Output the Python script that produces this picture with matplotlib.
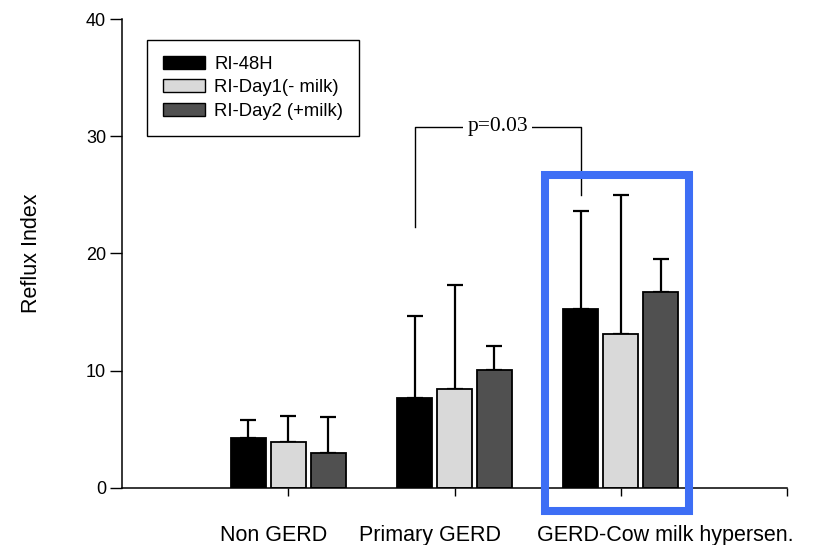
import matplotlib
matplotlib.use("Agg")
import matplotlib.pyplot as plt
from matplotlib.patches import Patch, Rectangle
import numpy as np

groups = ["Non GERD", "Primary GERD", "GERD-Cow milk hypersen."]
series = ["RI-48H", "RI-Day1(- milk)", "RI-Day2 (+milk)"]
ri_48h = [4.25, 7.7, 15.3]
ri_day1 = [3.9, 8.45, 13.1]
ri_day2 = [3.0, 10.1, 16.75]
err_48h = [1.55, 7.0, 8.3]
err_day1 = [2.25, 8.85, 11.9]
err_day2 = [3.07, 2.0, 2.75]
y_ticks = [0, 10, 20, 30, 40]
p_label = "p=0.03"

plt.rcParams['font.family'] = ['Liberation Sans', 'DejaVu Sans']

fig = plt.figure(figsize=(8.13, 5.45), dpi=100)
ax = fig.add_axes([122/813, 1-488/545, (787-122)/813, (488-19)/545])

colors = ["#000000", "#d9d9d9", "#505050"]
offsets = [-0.24, 0.0, 0.24]
width = 0.21
xg = np.arange(1, len(groups) + 1)
vals = [ri_48h, ri_day1, ri_day2]
errs = [err_48h, err_day1, err_day2]
for v, e, c, o in zip(vals, errs, colors, offsets):
    ax.bar(xg + o, v, width, color=c, edgecolor="black", linewidth=1.3, zorder=2)
    ax.errorbar(xg + o, v, yerr=[np.zeros(len(e)), e], fmt="none",
                ecolor="black", elinewidth=1.6, capsize=5.5, capthick=1.6, zorder=1)

ax.set_xlim(0, 4)
ax.set_ylim(0, 40)
ax.set_yticks(y_ticks)
ax.set_yticklabels([str(t) for t in y_ticks], fontsize=13)
ax.set_xticks([1, 2, 3, 4])
ax.set_xticklabels([])
ax.tick_params(axis="y", length=8.5, width=1, pad=3)
ax.tick_params(axis="x", length=6, width=1)
for s in ["top", "right"]:
    ax.spines[s].set_visible(False)
for s in ["left", "bottom"]:
    ax.spines[s].set_linewidth(1.1)

ax.set_ylabel("Reflux Index", fontsize=15.5)
ax.yaxis.set_label_coords(-0.121, 0.5)

label_x = [0.91, 1.855, 3.27]
for lx, g in zip(label_x, groups):
    ax.text(lx, -0.113, g, transform=ax.get_xaxis_transform(), ha="center",
            va="baseline", fontsize=15.5)

# significance bracket
xl = xg[1] + offsets[0]
xr = xg[2] + offsets[0]
ax.plot([xl, xl, xr, xr], [22.3, 30.8, 30.8, 25.0], color="black", lw=1.0, zorder=3)
ax.text((xl + xr) / 2, 30.8, p_label, ha="center", va="center", fontsize=15.5,
        family="Liberation Serif",
        bbox=dict(facecolor="white", edgecolor="none", pad=3), zorder=4)

# highlight box
rect = Rectangle((2.542, -1.97), 3.41 - 2.542, 26.67 + 1.97, fill=False,
                 edgecolor="#3d6ef5", linewidth=5.8, clip_on=False, zorder=5)
ax.add_patch(rect)

handles = [Patch(facecolor=c, edgecolor="black", linewidth=1.0) for c in colors]
leg = ax.legend(handles, series, loc="upper left",
                bbox_to_anchor=(147/813, 1-40/545), bbox_transform=fig.transFigure,
                fontsize=13.3, frameon=True, fancybox=False, framealpha=1,
                edgecolor="black", handlelength=2.3, handleheight=0.7,
                handletextpad=0.5, borderpad=0.85, labelspacing=0.36,
                borderaxespad=0)
leg.get_frame().set_linewidth(1.0)

fig.savefig("out.png", dpi=100)
